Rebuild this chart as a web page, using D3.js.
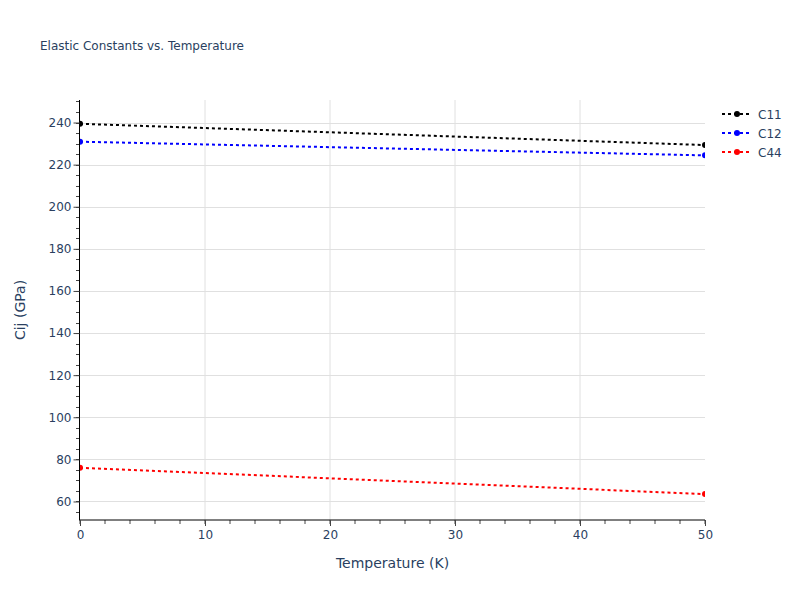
<!DOCTYPE html>
<html><head><meta charset="utf-8">
<script src="https://cdn.jsdelivr.net/npm/d3@7"></script>
<style>body{margin:0;background:#fff}svg{font-family:"DejaVu Sans",sans-serif}</style>
</head><body><svg id="c" width="800" height="600"></svg>
<script>
const temperature = [0, 50];
const C11 = [239.4, 229.3];
const C12 = [230.9, 224.4];
const C44 = [76.0, 63.5];
const seriesNames = ["C11", "C12", "C44"];
const seriesColors = ["black", "blue", "red"];
const xTicks = [0, 10, 20, 30, 40, 50];
const yTicks = [60, 80, 100, 120, 140, 160, 180, 200, 220, 240];

const FONT = "DejaVu Sans, sans-serif";
const svg = d3.select("#c");
const m = {l: 80, r: 95, t: 100, b: 80};
const W = 800, H = 600;
const x = d3.scaleLinear().domain([0, 50]).range([m.l, W - m.r]);
const y = d3.scaleLinear().domain([51.2, 250.7]).range([H - m.b, m.t]);
const txt = "#2a3f5f";

// gridlines
const g = svg.append("g");
g.selectAll(".gx").data(xTicks.filter(d => d > 0 && d < 50)).join("line")
  .attr("x1", d => x(d)).attr("x2", d => x(d)).attr("y1", m.t).attr("y2", H - m.b)
  .attr("stroke", "#e0e0e0").attr("stroke-width", 1);
g.selectAll(".gy").data(yTicks).join("line")
  .attr("x1", m.l).attr("x2", W - m.r).attr("y1", d => Math.round(y(d)) + 0.5).attr("y2", d => Math.round(y(d)) + 0.5)
  .attr("stroke", "#e0e0e0").attr("stroke-width", 1);

// minor ticks
const xMinor = d3.range(0, 51, 2);
const yMinor = d3.range(55, 251, 5);
svg.append("g").selectAll("line").data(xMinor).join("line")
  .attr("x1", d => x(d)).attr("x2", d => x(d)).attr("y1", H - m.b).attr("y2", H - m.b + 4)
  .attr("stroke", "#444").attr("stroke-width", 1);
svg.append("g").selectAll("line").data(yMinor).join("line")
  .attr("x1", m.l - 4).attr("x2", m.l).attr("y1", d => Math.round(y(d)) + 0.5).attr("y2", d => Math.round(y(d)) + 0.5)
  .attr("stroke", "#444").attr("stroke-width", 1);

// axes
const xAxis = d3.axisBottom(x).tickValues(xTicks).tickSize(6).tickPadding(4);
const yAxis = d3.axisLeft(y).tickValues(yTicks).tickSize(6).tickPadding(2);
const gx = svg.append("g").attr("transform", `translate(0,${H - m.b})`).call(xAxis);
const gy = svg.append("g").attr("transform", `translate(${m.l - 0.5},0)`).call(yAxis);
[gx, gy].forEach(a => {
  a.select(".domain").attr("stroke", "#000").attr("stroke-width", 1);
  a.selectAll(".tick line").attr("stroke", "#444");
  a.selectAll(".tick text").attr("fill", txt).attr("font-size", 12).attr("font-family", FONT);
});
gy.select(".domain").attr("d", `M0,${m.t}V${H - m.b}`);
gx.select(".domain").attr("d", `M${m.l - 1},0H${W - m.r}`);

// clip
svg.append("clipPath").attr("id", "clip").append("rect")
  .attr("x", m.l).attr("y", m.t).attr("width", W - m.l - m.r).attr("height", H - m.t - m.b);

const data = [C11, C12, C44];
const line = d3.line().x((d, i) => x(temperature[i])).y(d => y(d));
const plot = svg.append("g").attr("clip-path", "url(#clip)");
data.forEach((s, k) => {
  plot.append("path").attr("d", line(s)).attr("fill", "none")
    .attr("stroke", seriesColors[k]).attr("stroke-width", 2).attr("stroke-dasharray", "3,3");
  plot.selectAll(null).data(s).join("circle")
    .attr("cx", (d, i) => x(temperature[i])).attr("cy", d => y(d)).attr("r", 3)
    .attr("fill", seriesColors[k]);
});

// legend
const lg = svg.append("g");
seriesNames.forEach((n, k) => {
  const yy = 114 + k * 19;
  lg.append("line").attr("x1", 722).attr("x2", 752).attr("y1", yy).attr("y2", yy)
    .attr("stroke", seriesColors[k]).attr("stroke-width", 2).attr("stroke-dasharray", "3,3");
  lg.append("circle").attr("cx", 737).attr("cy", yy).attr("r", 3).attr("fill", seriesColors[k]);
  lg.append("text").attr("x", 758).attr("y", yy + 4.5).attr("font-size", 12).attr("font-family", FONT).attr("fill", txt).text(n);
});

// titles
svg.append("text").attr("x", 40).attr("y", 50).attr("font-size", 12).attr("font-family", FONT).attr("fill", txt)
  .text("Elastic Constants vs. Temperature");
svg.append("text").attr("x", (m.l + W - m.r) / 2).attr("y", 568).attr("text-anchor", "middle")
  .attr("font-size", 14).attr("font-family", FONT).attr("fill", txt).text("Temperature (K)");
svg.append("text").attr("transform", `translate(25,${(m.t + H - m.b) / 2}) rotate(-90)`)
  .attr("text-anchor", "middle").attr("font-size", 14).attr("font-family", FONT).attr("fill", txt).text("Cij (GPa)");
</script></body></html>
